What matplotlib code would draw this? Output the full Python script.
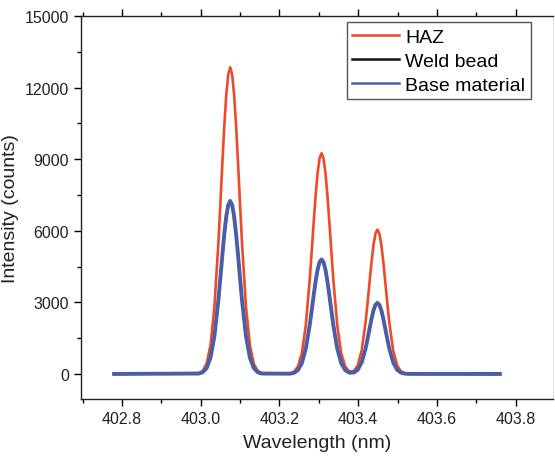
import matplotlib
matplotlib.use("Agg")
import matplotlib.pyplot as plt
from matplotlib.ticker import MultipleLocator, FormatStrFormatter

plt.rcParams["font.family"] = ["Liberation Sans", "DejaVu Sans"]

# Wavelength grid (nm)
wavelength = [402.78,
              402.995, 403.005, 403.015, 403.025, 403.035, 403.045, 403.050, 403.055,
              403.060, 403.065, 403.070, 403.075, 403.080, 403.085, 403.090, 403.095,
              403.100, 403.105, 403.115, 403.125, 403.135, 403.145, 403.155,
              403.227, 403.237, 403.247, 403.257, 403.267, 403.277, 403.282, 403.287,
              403.292, 403.297, 403.302, 403.307, 403.312, 403.317, 403.322, 403.327,
              403.332, 403.337, 403.347, 403.357, 403.367,
              403.378,
              403.389, 403.399, 403.409, 403.419, 403.424, 403.429, 403.434, 403.439,
              403.444, 403.449, 403.454, 403.459, 403.464, 403.469, 403.474, 403.479,
              403.489, 403.499, 403.509, 403.519, 403.529,
              403.76]

haz = [0,
       30, 125, 428, 1209, 2832, 5488, 7119, 8805,
       10388, 11691, 12549, 12850, 12549, 11691, 10388, 8805,
       7119, 5488, 2832, 1209, 428, 125, 30,
       22, 90, 308, 870, 2039, 3951, 5125, 6338,
       7478, 8416, 9034, 9250, 9034, 8416, 7478, 6338,
       5125, 3951, 2039, 870, 308,
       99,
       118, 356, 986, 2180, 2978, 3844, 4688, 5401,
       5881, 6050, 5881, 5401, 4688, 3844, 2978, 2180,
       986, 356, 102, 23, 4,
       0]

weld_bead = [0,
             17, 70, 240, 678, 1587, 3075, 3989, 4933,
             5820, 6551, 7032, 7200, 7032, 6551, 5820, 4933,
             3989, 3075, 1587, 678, 240, 70, 17,
             11, 46, 159, 449, 1051, 2037, 2643, 3268,
             3856, 4340, 4658, 4770, 4658, 4340, 3856, 3268,
             2643, 2037, 1051, 449, 159,
             51,
             58, 174, 482, 1067, 1457, 1881, 2293, 2643,
             2877, 2960, 2877, 2643, 2293, 1881, 1457, 1067,
             482, 174, 50, 12, 2,
             0]

base_material = [0,
                 17, 71, 241, 682, 1598, 3096, 4017, 4968,
                 5861, 6596, 7080, 7250, 7080, 6596, 5861, 4968,
                 4017, 3096, 1598, 682, 241, 71, 17,
                 11, 47, 160, 452, 1058, 2050, 2659, 3289,
                 3880, 4367, 4688, 4800, 4688, 4367, 3880, 3289,
                 2659, 2050, 1058, 452, 160,
                 51,
                 58, 175, 486, 1074, 1467, 1894, 2309, 2661,
                 2897, 2980, 2897, 2661, 2309, 1894, 1467, 1074,
                 486, 175, 50, 12, 2,
                 0]

fig = plt.figure(figsize=(5.55, 4.6), dpi=100)
ax = fig.add_axes([81 / 555, 1 - 400 / 460, (553 - 81) / 555, 383 / 460])

ax.plot(wavelength, haz, color="#ec4a2a", lw=1.9, label="HAZ")
ax.plot(wavelength, weld_bead, color="#111111", lw=1.6, label="Weld bead")
ax.plot(wavelength, base_material, color="#4a5ea8", lw=2.8, label="Base material")

ax.set_xlim(402.696, 403.895)
ax.set_ylim(-1050, 15000)
ax.xaxis.set_major_locator(MultipleLocator(0.2))
ax.xaxis.set_minor_locator(MultipleLocator(0.1))
ax.yaxis.set_major_locator(MultipleLocator(3000))
ax.yaxis.set_minor_locator(MultipleLocator(1500))
ax.xaxis.set_major_formatter(FormatStrFormatter("%.1f"))

ax.tick_params(which="both", direction="out", top=True, right=False,
               labelsize=11.5, labelcolor="#222222", width=1)
ax.tick_params(which="major", length=5)
ax.tick_params(which="minor", length=3)

for s in ["left", "bottom", "top"]:
    ax.spines[s].set_linewidth(1)
    ax.spines[s].set_color("#222222")
ax.spines["right"].set_color("#e6e6e6")

ax.set_xlabel("Wavelength (nm)", fontsize=14, color="#222222", labelpad=6)
ax.set_ylabel("Intensity (counts)", fontsize=14, color="#222222", labelpad=4)

leg = ax.legend(loc="upper right", bbox_to_anchor=(0.953, 0.984), borderaxespad=0,
                fontsize=14, handlelength=2.4, handletextpad=0.3, labelspacing=0.33,
                borderpad=0.3, fancybox=False, framealpha=1)
leg.get_frame().set_edgecolor("#555555")
leg.get_frame().set_linewidth(1)
for line in leg.get_lines():
    line.set_linewidth(1.8)

fig.savefig("out.png", dpi=100)
